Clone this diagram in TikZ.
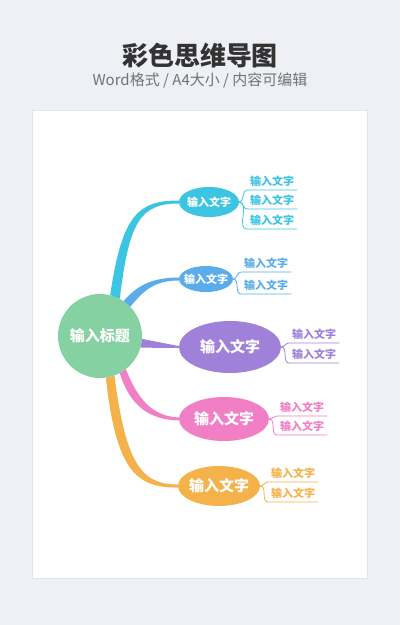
\documentclass[tikz,border=0pt]{standalone}
\usepackage{fontspec}
\setmainfont{Noto Sans CJK SC}
\usetikzlibrary{shapes.geometric}
\definecolor{bgc}{HTML}{EEF0F5}
\definecolor{pagec}{HTML}{E2E5EC}
\definecolor{rootc}{HTML}{86D1A2}
\definecolor{cyanc}{HTML}{3CC5E2}
\definecolor{bluec}{HTML}{5AADEA}
\definecolor{purplec}{HTML}{A081DA}
\definecolor{pinkc}{HTML}{F17FC5}
\definecolor{orangec}{HTML}{F6B24A}
\tikzset{root/.style={circle,fill=rootc,text=white,minimum size=84pt,inner sep=0pt,font=\bfseries\fontsize{15}{18}\selectfont},
  sub/.style={ellipse,text=white,inner xsep=-8pt,inner ysep=0pt,font=\bfseries\fontsize{11}{13}\selectfont},
  bigsub/.style={sub,font=\bfseries\fontsize{15}{18}\selectfont},
  leaf/.style={anchor=south west,inner xsep=3pt,inner ysep=3pt,font=\bfseries\fontsize{11}{13}\selectfont},
  twig/.style={line width=0.8pt}}

\begin{document}
\begin{tikzpicture}[x=1pt,y=-1pt]
  \fill[bgc] (0,0) rectangle (400,625);
  \useasboundingbox (0,0) rectangle (400,625);
  \fill[white,draw=pagec] (32,110) rectangle (367,578);
  \node[text=black!80,font=\bfseries\fontsize{26}{30}\selectfont] (title) at (200,56) {彩色思维导图};
  \node[text=black!55,font=\fontsize{15}{18}\selectfont] (subtitle) at (200,80) {Word格式 / A4大小 / 内容可编辑};
  \node[root] (c) at (100,336) {输入标题};
  \node[sub,fill=cyanc,minimum width=60pt,minimum height=30pt] (b1) at (209,202) {输入文字};
  \node[sub,fill=bluec,minimum width=54pt,minimum height=26pt] (b2) at (206,279) {输入文字};
  \node[bigsub,fill=purplec,minimum width=102pt,minimum height=52pt] (b3) at (230,347) {输入文字};
  \node[bigsub,fill=pinkc,minimum width=90pt,minimum height=44pt] (b4) at (224,419) {输入文字};
  \node[bigsub,fill=orangec,minimum width=82pt,minimum height=40pt] (b5) at (219,486) {输入文字};
  \node[leaf,text=cyanc] (l11) at (247,190) {输入文字};
  \node[leaf,text=cyanc] (l12) at (247,209) {输入文字};
  \node[leaf,text=cyanc] (l13) at (247,229) {输入文字};
  \node[leaf,text=bluec] (l21) at (241,272) {输入文字};
  \node[leaf,text=bluec] (l22) at (241,294) {输入文字};
  \node[leaf,text=purplec] (l31) at (289,343) {输入文字};
  \node[leaf,text=purplec] (l32) at (289,363) {输入文字};
  \node[leaf,text=pinkc] (l41) at (277,416) {输入文字};
  \node[leaf,text=pinkc] (l42) at (277,435) {输入文字};
  \node[leaf,text=orangec] (l51) at (268,482) {输入文字};
  \node[leaf,text=orangec] (l52) at (268,502) {输入文字};
  \fill[cyanc] (c.76) .. controls (122,215) and (138,200.5) .. ([yshift=1.5pt]b1.west)
    -- ([yshift=-1.5pt]b1.west) .. controls (140,203.5) and (129,222) .. (c.62) -- cycle;
  \fill[bluec] (c.56) .. controls (136,287) and (150,277.5) .. ([yshift=1.5pt]b2.west)
    -- ([yshift=-1.5pt]b2.west) .. controls (152,280.5) and (142,293) .. (c.44) -- cycle;
  \fill[purplec] (c.-4) -- ([yshift=1pt]b3.west) -- ([yshift=-1pt]b3.west) -- (c.-16) -- cycle;
  \fill[pinkc] (c.-52) .. controls (137,398) and (152,416.5) .. ([yshift=1.5pt]b4.west)
    -- ([yshift=-1.5pt]b4.west) .. controls (148,419.5) and (130,405) .. (c.-62) -- cycle;
  \fill[orangec] (c.-70) .. controls (126,465) and (142,484.5) .. ([yshift=1.5pt]b5.west)
    -- ([yshift=-1.5pt]b5.west) .. controls (136,488) and (116,470) .. (c.-82) -- cycle;
  \foreach \l in {l11,l12,l13} \draw[twig,cyanc] (b1.east) to[out=0,in=180] (\l.south west) -- (\l.south east);
  \foreach \l in {l21,l22} \draw[twig,bluec] (b2.east) to[out=0,in=180] (\l.south west) -- (\l.south east);
  \foreach \l in {l31,l32} \draw[twig,purplec] (b3.east) to[out=0,in=180] (\l.south west) -- (\l.south east);
  \foreach \l in {l41,l42} \draw[twig,pinkc] (b4.east) to[out=0,in=180] (\l.south west) -- (\l.south east);
  \foreach \l in {l51,l52} \draw[twig,orangec] (b5.east) to[out=0,in=180] (\l.south west) -- (\l.south east);
\end{tikzpicture}
\end{document}
